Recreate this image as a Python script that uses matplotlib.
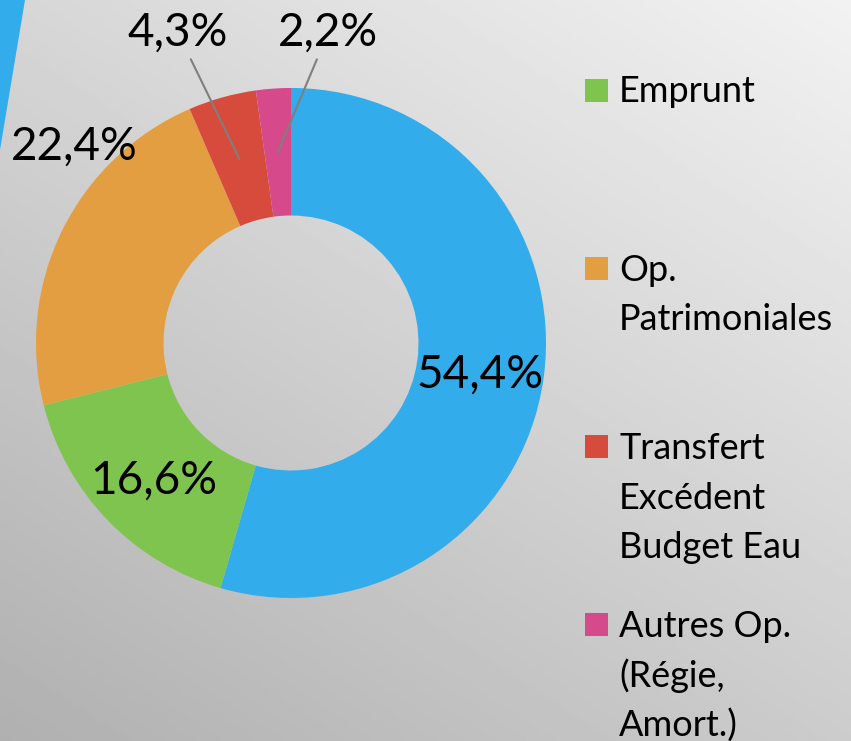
import numpy as np
import matplotlib.pyplot as plt
from matplotlib.patches import Polygon, Rectangle

# chart data
values = [54.4, 16.6, 22.4, 4.3, 2.2]
colors = ['#32ACEB', '#80C450', '#E39E41', '#D64B3B', '#D6498B']
legend_labels = ['Emprunt', 'Op.\nPatrimoniales', 'Transfert\nExcédent\nBudget Eau',
                 'Autres Op.\n(Régie,\nAmort.)']
legend_colors = colors[1:]

W, H = 851, 741
cx, cy, R = 291, 343, 255   # donut centre / radius in pixels
FONT = 'Lato'


def px2data(x, y):
    return (x - cx) / R, (cy - y) / R


fig = plt.figure(figsize=(W / 100, H / 100), dpi=100)

# grey gradient background + blue stripe top-left
bg = fig.add_axes([0, 0, 1, 1])
bg.axis('off')
gx, gy = np.meshgrid(np.linspace(0, 1, 300), np.linspace(0, 1, 300))
shade = (214 + 28 * gx - 38 * gy) / 255
bg.imshow(shade, cmap='gray', vmin=0, vmax=1, extent=[0, W, H, 0],
          aspect='auto', interpolation='bilinear')
bg.add_patch(Polygon([(0, 0), (25, 0), (0, 150)], closed=True, color=colors[0], lw=0))
bg.set_xlim(0, W)
bg.set_ylim(H, 0)

# donut
ax = fig.add_axes([0, 0, 1, 1])
ax.patch.set_alpha(0)
wedges, _ = ax.pie(values, colors=colors, startangle=90, counterclock=False,
                   radius=1, wedgeprops=dict(width=0.5, linewidth=0))
ax.set_xlim(-cx / R, (W - cx) / R)
ax.set_ylim(-(H - cy) / R, cy / R)
ax.axis('off')

pct = [f"{v:.1f}%".replace('.', ',') for v in values]
mids = [np.deg2rad((w.theta1 + w.theta2) / 2) for w in wedges]

# labels inside the ring
for i in (0, 1):
    ax.text(0.75 * np.cos(mids[i]), 0.75 * np.sin(mids[i]) - 0.02, pct[i],
            ha='center', va='center', fontsize=33, family=FONT, color='black')

# outside labels
ax.text(*px2data(74, 147), pct[2], ha='center', va='center', fontsize=33,
        family=FONT, color='black')
for i, pos in ((3, (178, 33)), (4, (328, 33))):
    ax.annotate(pct[i], xy=(0.75 * np.cos(mids[i]), 0.75 * np.sin(mids[i])),
                xytext=px2data(*pos), ha='center', va='center', fontsize=33,
                family=FONT, color='black',
                arrowprops=dict(arrowstyle='-', color='#7F7F7F', lw=1.5,
                                shrinkA=2, shrinkB=0))

# legend (drawn by hand, each entry on a fixed pitch)
for k, (lab, col) in enumerate(zip(legend_labels, legend_colors)):
    yc = 90 + k * 178.3
    bg.add_patch(Rectangle((585, yc - 11.5), 23, 23, color=col, lw=0))
    for j, line in enumerate(lab.split('\n')):
        bg.text(619, yc + 12.5 + j * 49.5, line, ha='left', va='baseline',
                fontsize=26, family=FONT, color='black')

fig.savefig('out.png', dpi=100)
